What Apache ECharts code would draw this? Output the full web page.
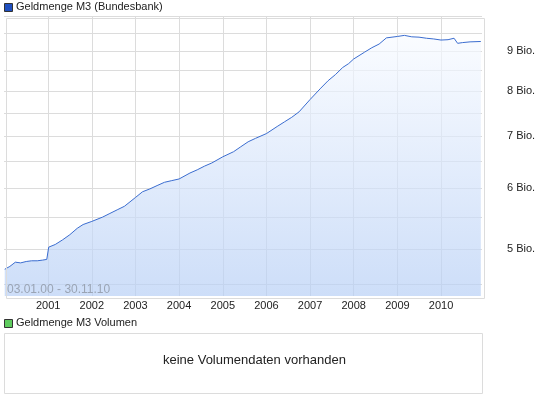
<!DOCTYPE html>
<html><head><meta charset="utf-8">
<script src="https://cdn.jsdelivr.net/npm/echarts@6/dist/echarts.min.js"></script>
<style>html,body{margin:0;padding:0;background:#fff}#c{width:545px;height:401px}</style>
</head><body><div id="c"></div>
<script>
var dates = ['2000-01-03','2000-02-15','2000-04-01','2000-05-15','2000-07-01','2000-08-15','2000-10-01','2000-11-15','2000-12-20','2001-01-05','2001-03-01','2001-05-01','2001-07-01','2001-09-01','2001-10-20','2002-01-01','2002-04-01','2002-06-01','2002-08-01','2002-10-01','2003-01-01','2003-03-01','2003-05-01','2003-07-01','2003-09-01','2003-11-01','2004-01-01','2004-04-01','2004-06-01','2004-08-01','2004-10-01','2005-01-01','2005-04-01','2005-06-01','2005-08-01','2005-10-01','2006-01-01','2006-04-01','2006-06-01','2006-08-01','2006-10-01','2007-01-01','2007-04-01','2007-06-01','2007-08-01','2007-10-01','2007-11-20','2008-01-01','2008-04-01','2008-06-01','2008-08-01','2008-10-01','2009-01-01','2009-03-01','2009-05-01','2009-07-01','2009-09-01','2009-11-01','2010-01-01','2010-03-01','2010-04-20','2010-05-20','2010-07-01','2010-09-01','2010-11-30'];
var values = [4.71,4.75,4.81,4.80,4.82,4.83,4.83,4.84,4.85,5.03,5.07,5.14,5.22,5.32,5.38,5.43,5.50,5.56,5.62,5.68,5.83,5.93,5.98,6.04,6.10,6.13,6.16,6.27,6.33,6.40,6.46,6.58,6.68,6.78,6.88,6.95,7.05,7.20,7.30,7.40,7.52,7.80,8.07,8.25,8.40,8.58,8.68,8.80,8.98,9.10,9.20,9.37,9.41,9.44,9.40,9.39,9.36,9.34,9.31,9.32,9.36,9.22,9.24,9.26,9.27];
var years = ['2001','2002','2003','2004','2005','2006','2007','2008','2009','2010'];
var labelValues = [5,6,7,8,9];
var gridValues = [4.5,5,5.5,6,6.5,7,7.5,8,8.5,9,9.5,10];

var chart = echarts.init(document.getElementById('c'));
function ts(s){return +new Date(s+'T00:00:00');}
var yearTs = years.map(function(y){return ts(y+'-01-01');});
var font = 'Liberation Sans, Arial, sans-serif';
chart.setOption({
  animation:false,
  grid:{left:4,right:63,top:16,height:280,containLabel:false},
  xAxis:{type:'value',min:ts('1999-12-28'),max:ts('2010-12-10'),
    axisLine:{show:false},
    axisTick:{show:false,customValues:yearTs},
    axisLabel:{customValues:yearTs,color:'#222',fontSize:11,fontFamily:font,margin:4,
      formatter:function(v){return new Date(v).getFullYear()+'';}},
    splitLine:{show:true,lineStyle:{color:'#dcdcdc',width:1}}},
  yAxis:{type:'log',logBase:10,position:'right',min:4.35,max:10,
    axisLine:{show:false},
    axisTick:{show:false,customValues:gridValues},
    axisLabel:{customValues:labelValues,color:'#222',fontSize:11,fontFamily:font,margin:25,
      formatter:function(v){return Math.round(v)+' Bio.';}},
    splitLine:{show:true,lineStyle:{color:'#dcdcdc',width:1}}},
  series:[{type:'line',showSymbol:false,symbol:'none',
    data:dates.map(function(d,i){return [ts(d),values[i]];}),
    lineStyle:{color:'#3a6ccf',width:1},
    areaStyle:{origin:'start',color:new echarts.graphic.LinearGradient(0,0,0,1,[{offset:0,color:'#f7faff'},{offset:1,color:'#b7cff5'}])}}],
  graphic:[
    {type:'rect',left:4,top:16,shape:{width:478,height:280},style:{fill:'none',stroke:'#dcdcdc',lineWidth:1},z:100,silent:true},
    {type:'rect',left:4,top:3,shape:{width:8,height:8},style:{fill:'#1f4fbf',stroke:'#333',lineWidth:1}},
    {type:'text',left:16,top:1,style:{text:'Geldmenge M3 (Bundesbank)',fill:'#222',font:'11px '+font}},
    {type:'text',left:7,top:284,style:{text:'03.01.00 - 30.11.10',fill:'#9aa4b4',font:'12px '+font},z:101},
    {type:'rect',left:4,top:319,shape:{width:8,height:8},style:{fill:'#5ecb5e',stroke:'#333',lineWidth:1}},
    {type:'text',left:16,top:317,style:{text:'Geldmenge M3 Volumen',fill:'#222',font:'11px '+font}},
    {type:'rect',left:4,top:333,shape:{width:478,height:60},style:{fill:'#fff',stroke:'#dcdcdc',lineWidth:1}},
    {type:'text',left:163,top:354,style:{text:'keine Volumendaten vorhanden',fill:'#222',font:'13px '+font}}
  ]
});
</script></body></html>
